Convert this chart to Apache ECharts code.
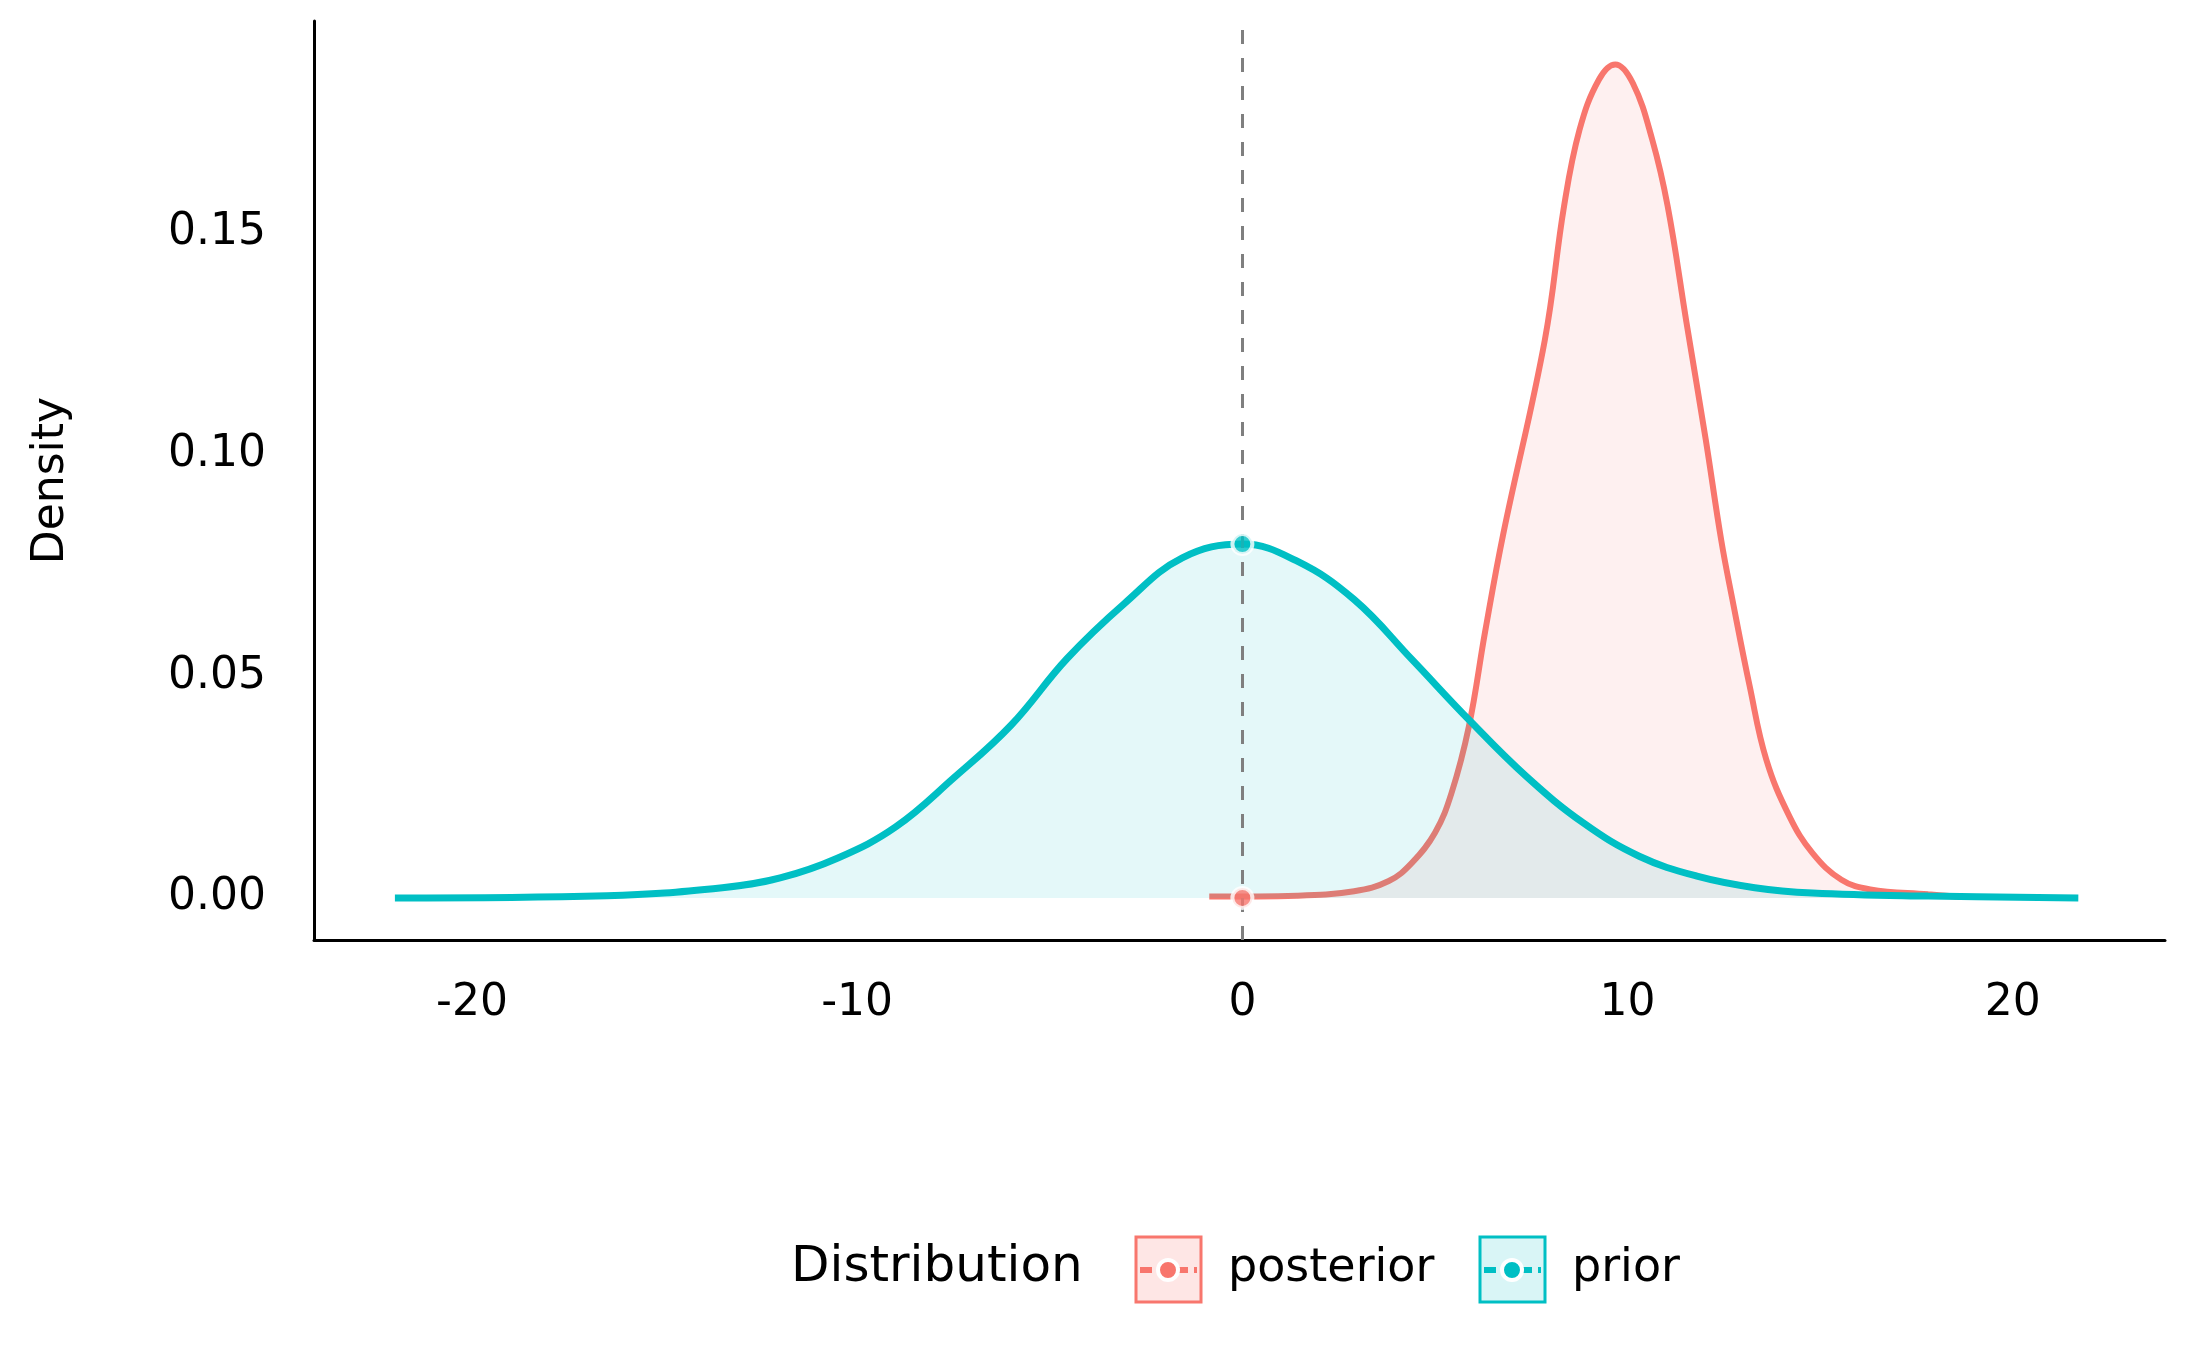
<!DOCTYPE html>
<html><head><meta charset="utf-8">
<script src="https://cdn.jsdelivr.net/npm/echarts@6/dist/echarts.min.js"></script>
<style>html,body{margin:0;padding:0;background:#fff}#c{width:2187px;height:1351px}</style>
</head><body><div id="c"></div>
<script>
const priorX = [-22.0,-16.5,-13.5,-12.0,-10.5,-9.0,-7.5,-6.0,-4.55,-3.05,-1.56,0,1.41,2.9,4.4,5.9,7.37,8.85,10.3,11.8,13.3,14.8,17.8,21.7];
const priorY = [0.0000,0.0005,0.0023,0.0045,0.009,0.016,0.027,0.039,0.054,0.0665,0.0767,0.0798,0.076,0.0673,0.0538,0.040,0.0274,0.0169,0.0094,0.0049,0.0023,0.0011,0.0004,0.0000];
const postX = [-0.86,1.41,2.9,3.8,4.4,5.0,5.43,5.88,6.3,6.77,7.85,8.35,8.75,9.25,9.68,10.14,10.64,11.04,11.53,12.03,12.43,12.72,13.17,13.6,14.2,14.8,15.55,16.3,17.8,18.7];
const postY = [0.0003,0.0005,0.0015,0.0038,0.0079,0.0147,0.0237,0.0387,0.060,0.082,0.1258,0.156,0.1732,0.1845,0.188,0.1837,0.171,0.156,0.1297,0.1033,0.0807,0.0673,0.0477,0.0312,0.0184,0.0101,0.0041,0.0019,0.0008,0.0002];
const xTicks = [-20,-10,0,10,20];
const yTicks = [0,0.05,0.10,0.15];
const pointsPrior = [[0,0.0798]];
const pointsPost = [[0,0]];

const RED='#F8766D', CYAN='#00BFC4', F='DejaVu Sans';
const chart = echarts.init(document.getElementById('c'));
const zip=(a,b)=>a.map((v,i)=>[v,b[i]]);
chart.setOption({
  animation:false,
  grid:{left:314,right:22,top:21,bottom:411},
  xAxis:{type:'value',min:-24.1,max:23.95,
    axisLine:{onZero:false,lineStyle:{color:'#000',width:3}},
    axisTick:{show:false},splitLine:{show:false},
    axisLabel:{customValues:xTicks,color:'#000',fontSize:44,fontFamily:F,margin:42}},
  yAxis:{type:'value',min:-0.0095,max:0.1978,name:'Density',nameLocation:'middle',nameGap:240,
    nameTextStyle:{color:'#000',fontSize:44,fontFamily:F},
    axisLine:{show:true,onZero:false,lineStyle:{color:'#000',width:3}},
    axisTick:{show:false},splitLine:{show:false},
    axisLabel:{customValues:yTicks,color:'#000',fontSize:44,fontFamily:F,margin:48,formatter:v=>v.toFixed(2)}},
  series:[
    {type:'line',data:zip(postX,postY),smooth:0.4,symbol:'none',z:2,
     lineStyle:{color:RED,width:6},areaStyle:{color:'rgba(248,118,109,0.15)'}},
    {type:'line',data:zip(priorX,priorY),smooth:0.4,symbol:'none',z:3,
     lineStyle:{color:CYAN,width:7},areaStyle:{color:'rgba(0,191,196,0.15)'},
     markLine:{silent:true,symbol:'none',label:{show:false},
       lineStyle:{color:'#7f7f7f',width:3,type:[14,14]},data:[{xAxis:0}]}},
    {type:'scatter',data:pointsPost,symbolSize:20,z:5,itemStyle:{color:RED,borderColor:'#fff',borderWidth:4}},
    {type:'scatter',data:pointsPrior,symbolSize:20,z:5,itemStyle:{color:CYAN,borderColor:'#fff',borderWidth:4}}
  ],
  graphic:[
    {type:'text',left:791,top:1243,style:{text:'Distribution',fontSize:50,fontFamily:F,fill:'#000'}},
    {type:'rect',shape:{x:1136,y:1237,width:65,height:65},style:{fill:'rgba(248,118,109,0.18)',stroke:RED,lineWidth:3}},
    {type:'line',shape:{x1:1140,y1:1270,x2:1197,y2:1270},style:{stroke:RED,lineWidth:6,lineDash:[12,6]}},
    {type:'circle',shape:{cx:1168,cy:1270,r:10},style:{fill:RED,stroke:'#fff',lineWidth:4}},
    {type:'text',left:1228,top:1246,style:{text:'posterior',fontSize:46,fontFamily:F,fill:'#000'}},
    {type:'rect',shape:{x:1480,y:1237,width:65,height:65},style:{fill:'rgba(0,191,196,0.15)',stroke:CYAN,lineWidth:3}},
    {type:'line',shape:{x1:1484,y1:1270,x2:1541,y2:1270},style:{stroke:CYAN,lineWidth:6,lineDash:[12,6]}},
    {type:'circle',shape:{cx:1512,cy:1270,r:10},style:{fill:CYAN,stroke:'#fff',lineWidth:4}},
    {type:'text',left:1572,top:1246,style:{text:'prior',fontSize:46,fontFamily:F,fill:'#000'}}
  ]
});
</script></body></html>
